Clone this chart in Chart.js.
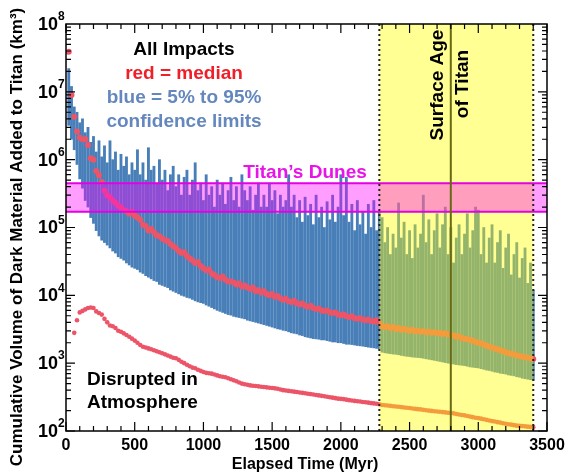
<!DOCTYPE html>
<html>
<head>
<meta charset="utf-8">
<script src="https://cdn.jsdelivr.net/npm/chart.js@4.4.0/dist/chart.umd.min.js"></script>
<style>
  body { margin: 0; background: #fff; }
</style>
</head>
<body>
<canvas id="titan-chart" width="565" height="475"></canvas>
<script>
// elapsed time (Myr) of each sample
const times = [
  20, 40, 60, 80, 100, 120, 140, 160, 180, 200,
  220, 240, 260, 280, 300, 320, 340, 360, 380, 400,
  420, 440, 460, 480, 500, 520, 540, 560, 580, 600,
  620, 640, 660, 680, 700, 720, 740, 760, 780, 800,
  820, 840, 860, 880, 900, 920, 940, 960, 980, 1000,
  1020, 1040, 1060, 1080, 1100, 1120, 1140, 1160, 1180, 1200,
  1220, 1240, 1260, 1280, 1300, 1320, 1340, 1360, 1380, 1400,
  1420, 1440, 1460, 1480, 1500, 1520, 1540, 1560, 1580, 1600,
  1620, 1640, 1660, 1680, 1700, 1720, 1740, 1760, 1780, 1800,
  1820, 1840, 1860, 1880, 1900, 1920, 1940, 1960, 1980, 2000,
  2020, 2040, 2060, 2080, 2100, 2120, 2140, 2160, 2180, 2200,
  2220, 2240, 2260, 2280, 2300, 2320, 2340, 2360, 2380, 2400,
  2420, 2440, 2460, 2480, 2500, 2520, 2540, 2560, 2580, 2600,
  2620, 2640, 2660, 2680, 2700, 2720, 2740, 2760, 2780, 2800,
  2820, 2840, 2860, 2880, 2900, 2920, 2940, 2960, 2980, 3000,
  3020, 3040, 3060, 3080, 3100, 3120, 3140, 3160, 3180, 3200,
  3220, 3240, 3260, 3280, 3300, 3320, 3340, 3360, 3380, 3400
];

// 95% confidence limit (top of blue bars), km^3
const upper95 = [
  2.2e7, 1.2e7, 6e6, 5e6, 3.5e6, 4e6, 2.5e6, 3e6, 1.8e6, 2.2e6,
  1.3e6, 1.9e6, 1.1e6, 1.6e6, 9e5, 1.9e6, 1e6, 1.3e6, 7e5, 1.2e6,
  8e5, 1.1e6, 6e5, 9e5, 7e5, 1.4e6, 6e5, 9e5, 5e5, 1.5e6,
  7e5, 8e5, 4.5e5, 1e6, 5e5, 7e5, 3.5e5, 6e5, 8e5, 4e5,
  6e5, 3e5, 5.5e5, 7e5, 3e5, 5e5, 9e5, 3.5e5, 4.5e5, 2.5e5,
  6e5, 3e5, 4e5, 2e5, 5e5, 3e5, 4.5e5, 2.2e5, 3.5e5, 5.5e5,
  2.5e5, 4e5, 2e5, 6e5, 3.5e5, 2.5e5, 4e5, 1.8e5, 3e5, 4.5e5,
  2e5, 3e5, 2e5, 4.5e5, 2.5e5, 3.5e5, 1.6e5, 3e5, 2e5, 2.5e5,
  6e5, 2e5, 3e5, 1.4e5, 2.5e5, 1.2e5, 2.8e5, 1.5e5, 2.2e5, 1.1e5,
  3e5, 1.4e5, 2e5, 1e5, 2.4e5, 1.3e5, 3e5, 1.2e5, 2e5, 6e5,
  1.5e5, 5.5e5, 1.2e5, 2.2e5, 9e4, 2.5e5, 1.1e5, 1.7e5, 8e4, 2.2e5,
  1e5, 2.5e5, 9e4, 1.7e5, 1.4e5, 6e4, 1e5, 4e4, 8e4, 5e4,
  2.3e5, 7e4, 1.2e5, 4e4, 9e4, 3.5e4, 1.1e5, 5e4, 8e4, 3e5,
  6e4, 1.3e5, 4e4, 9e4, 1.6e5, 5e4, 1.1e5, 2e5, 4e4, 1e5,
  3e4, 7e4, 1.1e5, 4e4, 8e4, 1.6e5, 5e4, 9e4, 2e5, 1.8e5,
  4e4, 1e5, 3e4, 7e4, 1.1e5, 3e4, 6e4, 9e4, 2.5e4, 5e4,
  8e4, 2e4, 4e4, 6e4, 1.8e4, 3.5e4, 5e4, 1.5e4, 3e4, 1.2e4
];

// 5% confidence limit (bottom of blue bars), km^3
const lower5 = [
  3.2e6, 2e6, 1.4e6, 8.5e5, 5.2e5, 3.8e5, 2.5e5, 2e5, 1.4e5, 1.15e5,
  9e4, 7.5e4, 6.5e4, 6e4, 5.5e4, 5e4, 4.5e4, 4.2e4, 3.7e4, 3.5e4,
  3.3e4, 3e4, 2.8e4, 2.6e4, 2.5e4, 2.4e4, 2.2e4, 2.1e4, 1.95e4, 1.85e4,
  1.75e4, 1.65e4, 1.6e4, 1.45e4, 1.4e4, 1.35e4, 1.3e4, 1.2e4, 1.15e4, 1.1e4,
  1.05e4, 1e4, 9.7e3, 9.3e3, 9.1e3, 8.7e3, 8.3e3, 8e3, 7.8e3, 7.6e3,
  7.2e3, 6.9e3, 6.6e3, 6.3e3, 6e3, 5.8e3, 5.6e3, 5.4e3, 5.2e3, 5.1e3,
  4.9e3, 4.8e3, 4.7e3, 4.6e3, 4.5e3, 4.3e3, 4.2e3, 4.1e3, 4e3, 3.9e3,
  3.8e3, 3.7e3, 3.6e3, 3.5e3, 3.4e3, 3.3e3, 3.2e3, 3.15e3, 3.05e3, 3e3,
  2.9e3, 2.8e3, 2.75e3, 2.7e3, 2.6e3, 2.55e3, 2.45e3, 2.4e3, 2.35e3, 2.3e3,
  2.28e3, 2.25e3, 2.2e3, 2.2e3, 2.15e3, 2.1e3, 2.05e3, 2.05e3, 2e3, 2e3,
  1.95e3, 1.9e3, 1.9e3, 1.88e3, 1.85e3, 1.82e3, 1.8e3, 1.78e3, 1.75e3, 1.72e3,
  1.7e3, 1.68e3, 1.65e3, 1.62e3, 1.45e3, 1.42e3, 1.4e3, 1.38e3, 1.36e3, 1.35e3,
  1.33e3, 1.3e3, 1.28e3, 1.26e3, 1.25e3, 1.23e3, 1.22e3, 1.21e3, 1.2e3, 1.18e3,
  1.16e3, 1.14e3, 1.12e3, 1.1e3, 1.08e3, 1.06e3, 1.04e3, 1.02e3, 1e3, 990,
  970, 950, 940, 930, 920, 900, 880, 870, 860, 850,
  830, 810, 790, 780, 760, 740, 730, 710, 700, 690,
  670, 660, 650, 630, 620, 600, 590, 580, 570, 560
];

// median, all impacts (red dots)
const median = [
  3.9e7, 9e6, 4.3e6, 2.6e6, 2.1e6, 2e6, 2e6, 1.65e6, 1.05e6, 1e6,
  6.8e5, 5.9e5, 4.7e5, 3.5e5, 3e5, 2.8e5, 2.5e5, 2.3e5, 2.1e5, 2e5,
  1.8e5, 1.75e5, 1.6e5, 1.7e5, 1.5e5, 1.4e5, 1.3e5, 1.1e5, 1.05e5, 9e4,
  9.5e4, 8.5e4, 7.7e4, 7.4e4, 6.9e4, 6.5e4, 6.3e4, 5.7e4, 5.3e4, 5e4,
  4.5e4, 4.2e4, 4.3e4, 3.8e4, 3.5e4, 3.3e4, 3e4, 3.1e4, 2.7e4, 2.5e4,
  2.35e4, 2.4e4, 2.1e4, 2e4, 1.85e4, 1.8e4, 1.9e4, 1.7e4, 1.6e4, 1.6e4,
  1.55e4, 1.45e4, 1.5e4, 1.35e4, 1.4e4, 1.3e4, 1.25e4, 1.3e4, 1.15e4, 1.2e4,
  1.1e4, 1.15e4, 1.05e4, 1e4, 1.05e4, 9.5e3, 9.8e3, 9e3, 8.6e3, 8.9e3,
  8.2e3, 8e3, 8.3e3, 7.6e3, 7.4e3, 7.6e3, 7e3, 6.8e3, 7e3, 6.5e3,
  6.3e3, 6.4e3, 6e3, 5.9e3, 6e3, 5.6e3, 5.5e3, 5.6e3, 5.2e3, 5.1e3,
  5.2e3, 4.9e3, 4.8e3, 4.9e3, 4.6e3, 4.5e3, 4.6e3, 4.4e3, 4.3e3, 4.4e3,
  4.2e3, 4.1e3, 4.3e3, 3.9e3, 3.5e3, 3.4e3, 3.5e3, 3.3e3, 3.4e3, 3.2e3,
  3.3e3, 3.1e3, 3.2e3, 3.1e3, 3e3, 3.1e3, 2.95e3, 3e3, 2.9e3, 2.95e3,
  2.85e3, 2.9e3, 2.8e3, 2.85e3, 2.75e3, 2.8e3, 2.7e3, 2.75e3, 2.65e3, 2.6e3,
  2.55e3, 2.45e3, 2.5e3, 2.35e3, 2.3e3, 2.25e3, 2.2e3, 2.15e3, 2.05e3, 2e3,
  1.95e3, 1.9e3, 1.8e3, 1.75e3, 1.7e3, 1.65e3, 1.6e3, 1.55e3, 1.5e3, 1.45e3,
  1.4e3, 1.38e3, 1.35e3, 1.3e3, 1.28e3, 1.25e3, 1.22e3, 1.2e3, 1.18e3, 1.15e3
];

// median of impacts disrupted in the atmosphere
const disrupted = [
  null, null, 2.8e3, 4.3e3, 5.6e3, 5.9e3, 6.2e3, 6.5e3, 6.6e3, 6.5e3,
  5.8e3, 5.5e3, 5.2e3, 4.5e3, 4e3, 3.6e3, 3.5e3, 3.3e3, 3e3, 2.9e3,
  2.75e3, 2.6e3, 2.45e3, 2.3e3, 2.15e3, 2e3, 1.85e3, 1.75e3, 1.7e3, 1.65e3,
  1.6e3, 1.55e3, 1.5e3, 1.45e3, 1.4e3, 1.35e3, 1.3e3, 1.25e3, 1.2e3, 1.18e3,
  1.12e3, 1.05e3, 1e3, 950, 900, 860, 840, 800, 770, 740,
  720, 710, 700, 680, 660, 640, 630, 620, 600, 580,
  560, 540, 520, 500, 490, 480, 470, 465, 460, 455,
  450, 445, 440, 435, 430, 425, 420, 410, 400, 395,
  390, 385, 380, 375, 370, 365, 360, 355, 350, 345,
  340, 335, 330, 325, 320, 315, 310, 305, 300, 298,
  295, 290, 285, 282, 278, 275, 272, 268, 265, 262,
  258, 255, 252, 248, 242, 240, 238, 235, 232, 230,
  228, 225, 222, 220, 218, 215, 212, 210, 208, 205,
  202, 200, 198, 196, 194, 192, 190, 188, 186, 185,
  182, 178, 175, 172, 170, 166, 163, 160, 157, 155,
  152, 149, 146, 143, 140, 138, 135, 133, 130, 128,
  126, 124, 122, 120, 119, 118, 117, 116, 115, 114
];

const xTicks = [0, 500, 1000, 1500, 2000, 2500, 3000, 3500];
const yTicks = [1e2, 1e3, 1e4, 1e5, 1e6, 1e7, 1e8];
const dunesRange = [1.7e5, 4.5e5];
const surfaceAgeWindow = [2280, 3400];
const surfaceAgeLine = 2800;

const FONT = '"Liberation Sans", Arial, Helvetica, sans-serif';
const RED = 'rgb(236,84,104)';
const BLUE = 'rgb(72,127,184)';

// yellow window, dunes band and marker lines go over the data
const overlayPlugin = {
  id: 'overlay',
  afterDatasetsDraw(chart) {
    const ctx = chart.ctx;
    const a = chart.chartArea;
    const xs = chart.scales.x;
    const ys = chart.scales.y;
    ctx.save();

    let x0 = xs.getPixelForValue(surfaceAgeWindow[0]);
    let x1 = xs.getPixelForValue(surfaceAgeWindow[1]);
    ctx.fillStyle = 'rgba(255,255,0,0.42)';
    ctx.fillRect(x0, a.top, x1 - x0, a.bottom - a.top);

    let yTop = ys.getPixelForValue(dunesRange[1]);
    let yBot = ys.getPixelForValue(dunesRange[0]);
    ctx.fillStyle = 'rgba(255,0,255,0.38)';
    ctx.fillRect(a.left, yTop, a.right - a.left, yBot - yTop);
    ctx.strokeStyle = 'rgb(228,0,228)';
    ctx.lineWidth = 2;
    ctx.beginPath();
    ctx.moveTo(a.left, yTop); ctx.lineTo(a.right, yTop);
    ctx.moveTo(a.left, yBot); ctx.lineTo(a.right, yBot);
    ctx.stroke();

    // dotted edges of the window
    ctx.strokeStyle = '#222';
    ctx.setLineDash([2, 3]);
    ctx.beginPath();
    ctx.moveTo(x0, a.top); ctx.lineTo(x0, a.bottom);
    ctx.moveTo(x1, a.top); ctx.lineTo(x1, a.bottom);
    ctx.stroke();
    ctx.setLineDash([]);

    let xa = xs.getPixelForValue(surfaceAgeLine);
    ctx.strokeStyle = 'rgb(105,105,20)';
    ctx.beginPath();
    ctx.moveTo(xa, a.top); ctx.lineTo(xa, a.bottom);
    ctx.stroke();
    ctx.restore();
  },

  afterDraw(chart) {
    const ctx = chart.ctx;
    const a = chart.chartArea;
    const xs = chart.scales.x;
    const ys = chart.scales.y;
    ctx.save();

    // frame with inward ticks (IDL style)
    ctx.strokeStyle = '#000';
    ctx.lineWidth = 1.5;
    ctx.strokeRect(a.left, a.top, a.right - a.left, a.bottom - a.top);
    ctx.lineWidth = 1.2;
    ctx.beginPath();
    for (let v = 0; v <= 3500; v += 100) {
      let px = xs.getPixelForValue(v);
      let len = v % 500 === 0 ? 9 : 5;
      ctx.moveTo(px, a.bottom); ctx.lineTo(px, a.bottom - len);
      ctx.moveTo(px, a.top); ctx.lineTo(px, a.top + len);
    }
    yTicks.forEach((v, i) => {
      if (i === yTicks.length - 1) return;
      for (let m = 1; m < 10; m++) {
        let py = ys.getPixelForValue(v * m);
        let len = m === 1 ? 9 : 5;
        ctx.moveTo(a.left, py); ctx.lineTo(a.left + len, py);
        ctx.moveTo(a.right, py); ctx.lineTo(a.right - len, py);
      }
    });
    ctx.stroke();

    // tick labels
    ctx.fillStyle = '#000';
    ctx.font = 'bold 16px ' + FONT;
    ctx.textAlign = 'center';
    ctx.textBaseline = 'top';
    xTicks.forEach(v => ctx.fillText(String(v), xs.getPixelForValue(v), a.bottom + 7));

    yTicks.forEach(v => {
      let py = ys.getPixelForValue(v);
      ctx.font = 'bold 18px ' + FONT;
      ctx.textAlign = 'right';
      ctx.textBaseline = 'middle';
      ctx.fillText('10', a.left - 8, py + 1);
      ctx.font = 'bold 12px ' + FONT;
      ctx.textAlign = 'left';
      ctx.fillText(String(Math.round(Math.log10(v))), a.left - 8, py - 7);
    });

    // axis titles
    ctx.textAlign = 'center';
    ctx.textBaseline = 'middle';
    ctx.font = 'bold 16px ' + FONT;
    ctx.fillText('Elapsed Time (Myr)', 305, 465);
    ctx.save();
    ctx.translate(17, 237);
    ctx.rotate(-Math.PI / 2);
    ctx.font = 'bold 17px ' + FONT;
    ctx.fillText('Cumulative Volume of Dark Material Added to Titan (km³)', 0, 0);
    ctx.restore();

    // annotations
    ctx.font = 'bold 19px ' + FONT;
    ctx.fillStyle = '#000';
    ctx.fillText('All Impacts', 184, 50);
    ctx.fillStyle = 'rgb(240,30,40)';
    ctx.fillText('red = median', 184, 74);
    ctx.fillStyle = 'rgb(100,135,190)';
    ctx.fillText('blue = 5% to 95%', 184, 98);
    ctx.fillText('confidence limits', 184, 122);
    ctx.fillStyle = 'rgb(232,20,232)';
    ctx.fillText('Titan’s Dunes', 305, 173);

    ctx.fillStyle = '#000';
    ctx.save();
    ctx.translate(438, 85);
    ctx.rotate(-Math.PI / 2);
    ctx.fillText('Surface Age', 0, 0);
    ctx.restore();
    ctx.save();
    ctx.translate(463, 84);
    ctx.rotate(-Math.PI / 2);
    ctx.fillText('of Titan', 0, 0);
    ctx.restore();

    ctx.textAlign = 'left';
    ctx.fillText('Disrupted in', 87, 380);
    ctx.fillText('Atmosphere', 87, 403);
    ctx.restore();
  }
};

let ctx = document.getElementById('titan-chart').getContext('2d');

new Chart(ctx, {
  type: 'bar',
  data: {
    datasets: [
      {
        type: 'line',
        label: 'median',
        data: times.map((t, i) => ({ x: t, y: median[i] })),
        showLine: false,
        pointRadius: 3,
        pointBorderWidth: 0,
        pointBackgroundColor: RED,
        order: 0,
      },
      {
        type: 'line',
        label: 'disrupted in atmosphere',
        data: times.map((t, i) => ({ x: t, y: disrupted[i] })).filter(p => p.y !== null),
        showLine: false,
        pointRadius: 2.3,
        pointBorderWidth: 0,
        pointBackgroundColor: RED,
        order: 1,
      },
      {
        type: 'bar',
        label: '5% to 95%',
        data: times.map((t, i) => ({ x: t, y: [lower5[i], upper95[i]] })),
        backgroundColor: BLUE,
        barThickness: 2.2,
        order: 2,
      },
    ],
  },
  options: {
    responsive: false,
    animation: false,
    layout: { padding: { left: 66, right: 18, top: 24, bottom: 44 } },
    scales: {
      x: { type: 'linear', min: 0, max: 3500, offset: false, display: false },
      y: { type: 'logarithmic', min: 1e2, max: 1e8, display: false },
    },
    plugins: {
      legend: { display: false },
      tooltip: { enabled: false },
    },
  },
  plugins: [overlayPlugin],
});
</script>
</body>
</html>
